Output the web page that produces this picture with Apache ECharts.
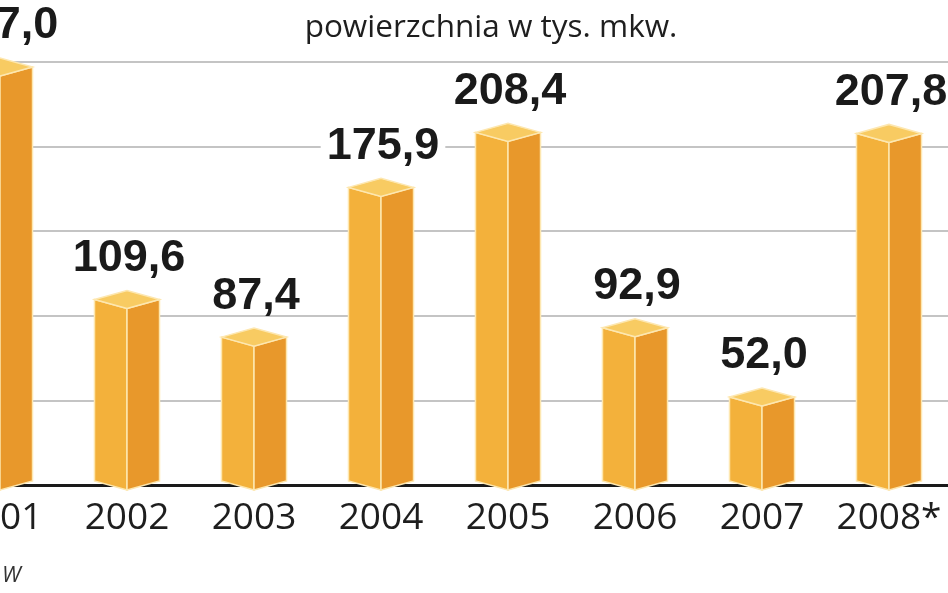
<!DOCTYPE html>
<html><head><meta charset="utf-8">
<script src="https://cdn.jsdelivr.net/npm/echarts@6/dist/echarts.min.js"></script>
<style>html,body{margin:0;padding:0;background:#fff}#c{width:948px;height:593px}</style>
</head><body><div id="c"></div>
<script>
const categories = ['2001','2002','2003','2004','2005','2006','2007','2008*'];
const values = [247.0, 109.6, 87.4, 175.9, 208.4, 92.9, 52.0, 207.8];
const yTicks = [0, 50, 100, 150, 200, 250];
const titleText = 'powierzchnia w tys. mkw.';
const sourceText = 'W';

const chart = echarts.init(document.getElementById('c'));
const fmt = v => v.toFixed(1).replace('.', ',');

chart.setOption({
  backgroundColor: '#ffffff',
  animation: false,
  grid: { left: -63.5, right: -4.5, top: 62, bottom: 108, containLabel: false, outerBoundsMode: 'none' },
  xAxis: {
    type: 'category', data: categories,
    axisLine: { show: true, lineStyle: { color: '#1a1a1a', width: 3 } },
    axisTick: { show: false },
    axisLabel: { color: '#1e1e1e', fontFamily: 'Open Sans', fontSize: 37, margin: 15, interval: 0, hideOverlap: false },
    z: 1
  },
  yAxis: {
    type: 'value', min: yTicks[0], max: yTicks[yTicks.length - 1], interval: 50,
    axisLine: { show: false }, axisTick: { show: false }, axisLabel: { show: false },
    splitLine: { show: true, lineStyle: { color: '#c4c4c4', width: 2 } }
  },
  graphic: [
    { type: 'text', x: 491, y: 28, style: { text: titleText, font: '31.5px "Open Sans"', fill: '#1e1e1e', textAlign: 'center', textVerticalAlign: 'middle' } },
    { type: 'text', x: 2, y: 576, style: { text: sourceText, font: 'italic 22px "Open Sans"', fill: '#333', textAlign: 'left', textVerticalAlign: 'middle' } }
  ],
  series: [{
    type: 'custom',
    data: values.map((v, i) => [i, v]),
    z: 5,
    renderItem: function (params, api) {
      const i = api.value(0), v = api.value(1);
      const p0 = api.coord([i, 0]);
      const p1 = api.coord([i, v]);
      const x = p0[0], y0 = p0[1], y1 = p1[1];
      const hw = api.size([1, 0])[0] * 0.256;
      const d = 9;
      const stroke = '#fde7b0';
      const yb = y0 - 4;
      return {
        type: 'group',
        children: [
          { type: 'polygon', shape: { points: [[x - hw, y1], [x, y1 + d], [x, yb + d], [x - hw, yb]] },
            style: { fill: '#f3b13b', stroke: stroke, lineWidth: 1.5 } },
          { type: 'polygon', shape: { points: [[x, y1 + d], [x + hw, y1], [x + hw, yb], [x, yb + d]] },
            style: { fill: '#e8982b', stroke: stroke, lineWidth: 1.5 } },
          { type: 'polygon', shape: { points: [[x - hw, y1], [x, y1 - d], [x + hw, y1], [x, y1 + d]] },
            style: { fill: '#f8cb62', stroke: stroke, lineWidth: 1.5 } },
          { type: 'text', x: x + 2, y: y1 - 24,
            style: { text: fmt(v), font: 'bold 45px "Liberation Sans"', lineHeight: 34, fill: '#1a1a1a', textAlign: 'center', textVerticalAlign: 'bottom',
                     backgroundColor: '#ffffff', padding: [0, 6, 0, 6] } }
        ]
      };
    }
  }]
});
</script></body></html>
